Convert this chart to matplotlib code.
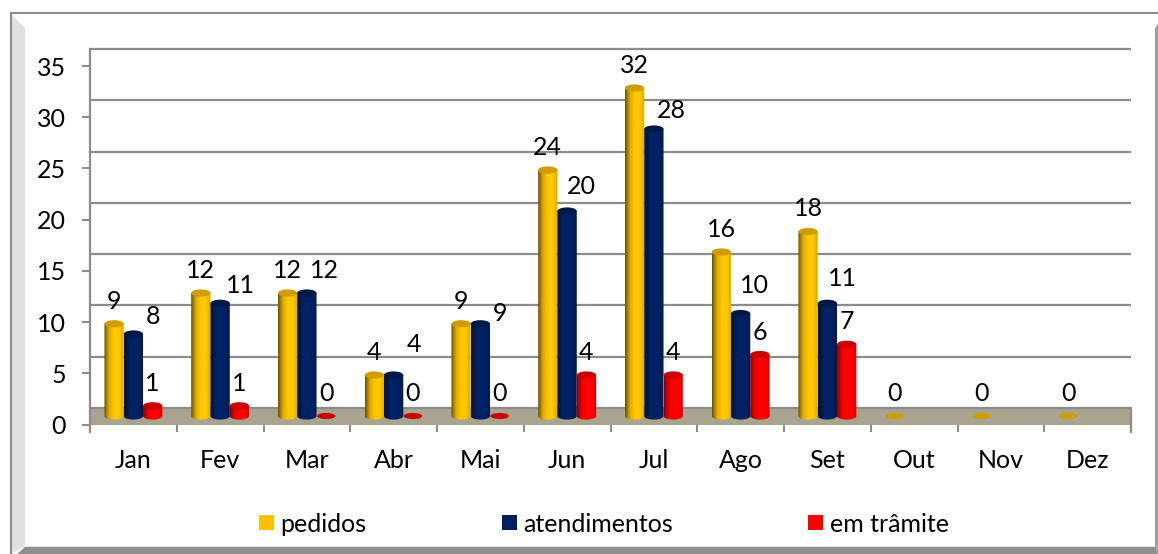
import matplotlib
matplotlib.use('Agg')
import matplotlib.pyplot as plt
import numpy as np
from matplotlib.colors import LinearSegmentedColormap
from matplotlib.patches import Ellipse, PathPatch, Polygon, Rectangle
from matplotlib.path import Path

plt.rcParams['font.family'] = ['Lato', 'DejaVu Sans']

meses = ['Jan', 'Fev', 'Mar', 'Abr', 'Mai', 'Jun', 'Jul', 'Ago', 'Set', 'Out', 'Nov', 'Dez']
pedidos = [9, 12, 12, 4, 9, 24, 32, 16, 18, 0, 0, 0]
atendimentos = [8, 11, 12, 4, 9, 20, 28, 10, 11, np.nan, np.nan, np.nan]
em_tramite = [1, 1, 0, 0, 0, 4, 4, 6, 7, np.nan, np.nan, np.nan]
yticks = [0, 5, 10, 15, 20, 25, 30, 35]

W, H = 1158, 554
GRID = '#8c8c8c'
FS = 18


def px_axes(fig, left, right, top, bottom):
    return fig.add_axes([left / W, 1 - bottom / H, (right - left) / W, (bottom - top) / H])


def cylinder(ax, xc, val, w, colors, cap, cap_h=0.7):
    if val == 0:
        ax.add_patch(Ellipse((xc, 0), w * 0.95, cap_h * 0.85, fc=cap, ec='none', zorder=3))
        return
    # body: rectangle with a rounded bottom, filled with a sideways gradient
    t = np.linspace(np.pi, 2 * np.pi, 25)
    xs = xc + w / 2 * np.cos(t)
    ys = cap_h / 2 * np.sin(t)
    verts = [(xc - w / 2, val)] + list(zip(xs, ys)) + [(xc + w / 2, val), (xc - w / 2, val)]
    codes = [Path.MOVETO] + [Path.LINETO] * (len(verts) - 2) + [Path.CLOSEPOLY]
    clip = PathPatch(Path(verts, codes), fc='none', ec='none', transform=ax.transData)
    ax.add_patch(clip)
    cmap = LinearSegmentedColormap.from_list('c', colors)
    im = ax.imshow(np.linspace(0, 1, 64).reshape(1, -1), cmap=cmap, aspect='auto',
                   extent=[xc - w / 2, xc + w / 2, -1, val + 1], zorder=3)
    im.set_clip_path(clip)
    ax.add_patch(Ellipse((xc, val), w, cap_h, fc=cap, ec='none', zorder=4))


fig = plt.figure(figsize=(W / 100, H / 100), dpi=100, facecolor='white')

# outer frame with its bevel
frame = fig.add_axes([0, 0, 1, 1], zorder=0)
frame.set_xlim(0, W)
frame.set_ylim(H, 0)
frame.axis('off')
frame.add_patch(Polygon([(11, 14), (25, 28), (25, 546), (11, 554)], fc='#e0e0e0', ec='none'))
frame.add_patch(Polygon([(25, 547), (1155, 547), (1158, 554), (17, 554)], fc='#8f8f8f', ec='none'))
frame.add_patch(Rectangle((25, 545.5), 1130, 1.5, fc='#e4e4e4', ec='none'))
frame.add_patch(Polygon([(1155, 28), (1158, 24), (1158, 554), (1155, 547)], fc='#a0a0a0', ec='none'))
frame.plot([10.5, 10.5, W], [H, 13, 13], color=GRID, lw=1.5, solid_joinstyle='miter')

# back wall and floor
back = px_axes(fig, 90, 1131, 49, 408)
back.set_zorder(1)
back.patch.set_alpha(0)
back.set_xlim(0, 12)
back.set_ylim(0, 35)
back.axis('off')
floor = 17 / (359 / 35)
back.add_patch(Rectangle((0, -floor), 12, floor, fc='#a8a48f', ec='none', clip_on=False))
for v in yticks:
    back.plot([0, 12], [v, v], color=GRID, lw=1.6, clip_on=False, solid_capstyle='butt')
back.plot([0, 0], [-floor - 0.7, 35], color=GRID, lw=1.6, clip_on=False)
back.plot([12, 12], [-floor - 0.7, 0], color=GRID, lw=1.6, clip_on=False)

# front axis: ticks and labels
front = px_axes(fig, 90, 1131, 66, 424.5)
front.set_zorder(2)
front.patch.set_alpha(0)
front.set_xlim(0, 12)
front.set_ylim(0, 35)
for s in front.spines.values():
    s.set_visible(False)
front.set_yticks(yticks)
front.set_xticks(range(13))
front.set_xticklabels([])
front.set_xticks(np.arange(12) + 0.5, minor=True)
front.set_xticklabels(meses, minor=True, fontsize=FS)
front.tick_params(axis='y', length=5.5, width=1.5, color=GRID, labelsize=FS, pad=12)
front.tick_params(axis='x', which='major', length=5, width=1.5, color=GRID)
front.tick_params(axis='x', which='minor', length=0, pad=18)

# bars, y = 0 sits 416 px down, the axes runs one unit below it for the rounded bottoms
ax = px_axes(fig, 90, 1131, 57.25, 426.25)
ax.set_zorder(3)
ax.patch.set_alpha(0)
ax.axis('off')

series = [
    (pedidos, -1, ['#6e5200', '#e0aa00', '#ffc800', '#ffc800', '#dca800'], '#d09c00', '#ffc000'),
    (atendimentos, 0, ['#001030', '#002060', '#002468', '#002060', '#001a4c'], '#001848', '#002060'),
    (em_tramite, 1, ['#8c0000', '#f00000', '#ff0000', '#ff0000', '#d00000'], '#cc0000', '#ff0000'),
]
# label offsets from the bar top, px; the original labels were placed by hand
dy_atend = [17, 18, 22, 30, 10, 25, 19, 28, 25, 0, 0, 0]
dx_atend = [20, 20, 18, 20, 20, 14, 17, 14, 15, 0, 0, 0]
bar_w = 19.3 / (1041 / 12)
x = np.arange(12) + 0.5
for vals, pos, colors, cap, _ in series:
    for i, v in enumerate(vals):
        if np.isnan(v):
            continue
        xc = x[i] + pos * bar_w
        cylinder(ax, xc, v, bar_w, colors, cap)
        dx = dx_atend[i] if pos == 0 else 0
        dy = dy_atend[i] if pos == 0 else 22.5
        ax.annotate(str(v), (xc, v), xytext=(dx * 0.72, dy * 0.72), textcoords='offset points',
                    ha='center', va='center', fontsize=FS, color='black', annotation_clip=False, zorder=6)
ax.set_xlim(0, 12)
ax.set_ylim(-1, 35)

# legend
nomes = ['pedidos', 'atendimentos', 'em trâmite']
for nome, s, xq in zip(nomes, series, [259, 502, 808]):
    frame.add_patch(Rectangle((xq, 515), 15, 15, fc=s[4], ec='none'))
    frame.text(xq + 21.5, 524.5, nome, fontsize=FS, va='center', ha='left', color='black')

fig.savefig('out.png', dpi=100)
